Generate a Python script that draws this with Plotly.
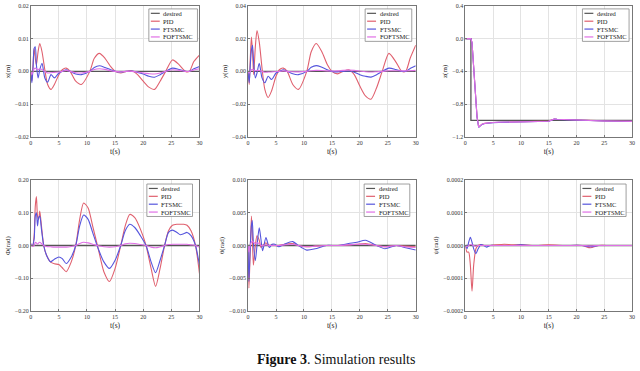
import plotly.graph_objects as go

W, H = 640, 371
FONT = "Liberation Serif"

series_names = ["desired", "PID", "FTSMC", "FOFTSMC"]
series_colors = ["#555555", "#e0606e", "#5555dd", "#e070e6"]

# ---------------- x(m) ----------------
t_x = [0, 0.2, 0.4, 0.6, 0.8, 1.0, 1.3, 1.6, 2.0, 2.5, 3.0, 3.6, 4.2, 5.0, 5.6, 6.3, 7.0, 8.0, 9.0, 10.5,
       11.3, 12.2, 13.2, 14.2, 15.0, 16.0, 17.0, 18.0, 19.0, 20.0, 21.0, 22.0, 23.0, 24.0, 25.2, 26.4, 27.5, 28.2, 29.0, 30.0]
x_pid = [0, -0.003, 0.002, 0.007, 0.004, 0.002, 0.006, 0.0085, 0.006, 0.0005, -0.004, -0.0055, -0.004, -0.001, 0.0005, 0.001, 0.0, -0.003, -0.004, 0.0,
         0.004, 0.0055, 0.004, 0.0015, 0.0, -0.0005, 0.0, 0.0002, -0.001, -0.003, -0.0048, -0.0055, -0.003, 0.0, 0.0035, 0.002, 0.0, 0.0, 0.003, 0.005]
x_ftsmc = [0, -0.0035, 0.001, 0.007, 0.0075, 0.002, -0.002, 0.0005, 0.0025, -0.002, -0.0033, -0.001, -0.002, -0.0005, 0.0, 0.0005, 0.0, -0.0008, -0.001, 0.0,
           0.0012, 0.0017, 0.0012, 0.0005, 0.0, -0.0002, 0.0, 0.0001, -0.0003, -0.0008, -0.0015, -0.0018, -0.001, 0.0, 0.001, 0.0006, 0.0, 0.0, 0.0008, 0.0015]
x_fo = [0, -0.001, 0.0, 0.0008, 0.001, 0.0008, 0.0005, 0.0008, 0.0006, 0.0, -0.0005, -0.0004, -0.0003, -0.0002, 0.0, 0.0003, 0.0, -0.0004, -0.0005, 0.0,
        0.0006, 0.0008, 0.0006, 0.0002, 0.0, -0.0001, 0.0, 0.0, -0.0002, -0.0005, -0.0007, -0.0008, -0.0005, 0.0, 0.0005, 0.0003, 0.0, 0.0, 0.0004, 0.0008]

# ---------------- y(m) ----------------
t_y = t_x
y_pid = [0, -0.008, 0.008, 0.021, 0.012, -0.002, 0.015, 0.025, 0.018, 0.002, -0.011, -0.016, -0.012, -0.003, 0.001, 0.002, 0.0, -0.008, -0.011, 0.0,
         0.012, 0.017, 0.012, 0.004, 0.0, -0.0015, 0.0, 0.001, -0.002, -0.009, -0.015, -0.017, -0.01, 0.0, 0.011, 0.006, 0.0, 0.0, 0.008, 0.016]
y_ftsmc = [0, -0.007, 0.004, 0.013, 0.016, 0.005, -0.004, -0.001, 0.005, -0.004, -0.007, -0.003, -0.005, -0.001, 0.0, 0.001, 0.0, -0.0015, -0.002, 0.0,
           0.0025, 0.0035, 0.0025, 0.001, 0.0, -0.0003, 0.0, 0.0002, -0.0005, -0.002, -0.003, -0.0035, -0.002, 0.0, 0.002, 0.0012, 0.0, 0.0, 0.0018, 0.0035]
y_fo = [0, -0.001, 0.0, 0.001, 0.0012, 0.0008, 0.0004, 0.0006, 0.0005, 0.0, -0.0005, -0.0004, -0.0003, -0.0001, 0.0, 0.0003, 0.0, -0.0002, -0.0003, 0.0,
        0.0004, 0.0006, 0.0005, 0.0003, 0.0002, 0.0003, 0.0006, 0.0008, 0.0006, 0.0002, -0.0002, -0.0004, -0.0002, 0.0, 0.0004, 0.0004, 0.0003, 0.0003, 0.0004, 0.0006]

# ---------------- z(m) ----------------
t_zd = [0, 1.0, 1.0, 30]
z_des = [0, 0, -1.0, -1.0]
t_z = [0, 1.0, 1.2, 1.5, 1.8, 2.1, 2.4, 2.7, 3.0, 3.5, 4.0, 5.0, 6.0, 8.0, 10.0, 12.0, 14.0, 15.0, 15.5, 16.0, 16.5, 18.0, 20.0, 22.0, 25.0, 28.0, 30.0]
z_pid = [0.0, 0.0, -0.05, -0.35, -0.65, -0.95, -1.08, -1.06, -1.045, -1.035, -1.03, -1.025, -1.022, -1.018, -1.015, -1.012, -1.01, -1.008, -0.995, -0.982, -0.985, -0.99, -0.995, -1.0, -1.005, -1.008, -1.01]
z_ftsmc = [0.0, 0.0, -0.05, -0.36, -0.66, -0.96, -1.085, -1.065, -1.048, -1.037, -1.032, -1.027, -1.024, -1.02, -1.017, -1.014, -1.012, -1.01, -0.997, -0.984, -0.987, -0.992, -0.997, -1.002, -1.007, -1.01, -1.012]
z_fo = [0.0, 0.0, -0.05, -0.355, -0.655, -0.955, -1.082, -1.062, -1.046, -1.036, -1.031, -1.026, -1.023, -1.019, -1.016, -1.013, -1.011, -1.009, -0.996, -0.983, -0.986, -0.991, -0.996, -1.001, -1.006, -1.009, -1.011]

# ---------------- phi(rad) ----------------
t_p = [0, 0.3, 0.6, 0.8, 1.0, 1.2, 1.4, 1.6, 1.9, 2.3, 2.8, 3.5, 4.2, 5.0, 5.6, 6.3, 7.2, 8.0, 8.7, 9.4,
       10.2, 11.0, 12.0, 13.0, 14.0, 15.0, 16.0, 16.8, 17.6, 18.5, 19.5, 20.5, 21.4, 22.2, 23.0, 23.8, 24.5, 25.2, 26.0, 26.6,
       27.2, 27.8, 28.5, 29.3, 30.0]
p_pid = [0.005, -0.003, 0.03, 0.12, 0.15, 0.09, 0.08, 0.105, 0.06, 0.0, -0.03, -0.05, -0.056, -0.058, -0.068, -0.08, -0.05, 0.0, 0.08, 0.13,
         0.115, 0.06, -0.01, -0.08, -0.11, -0.07, 0.0, 0.06, 0.095, 0.085, 0.05, 0.0, -0.07, -0.125, -0.07, 0.0, 0.045, 0.062, 0.065, 0.065,
         0.065, 0.062, 0.045, 0.0, -0.085]
p_ftsmc = [0.005, 0.0, 0.02, 0.09, 0.1, 0.06, 0.085, 0.09, 0.05, 0.0, -0.03, -0.05, -0.042, -0.035, -0.04, -0.055, -0.035, 0.0, 0.06, 0.093,
           0.08, 0.04, -0.01, -0.05, -0.07, -0.045, 0.0, 0.045, 0.065, 0.055, 0.03, 0.0, -0.05, -0.083, -0.045, 0.0, 0.04, 0.047, 0.04, 0.033,
           0.036, 0.04, 0.03, 0.0, -0.06]
p_fo = [0.005, -0.003, 0.0, 0.01, 0.008, 0.004, 0.008, 0.01, 0.006, 0.0, -0.003, -0.004, -0.005, -0.005, -0.005, -0.005, -0.003, 0.0, 0.006, 0.01,
        0.008, 0.004, -0.001, -0.004, -0.005, -0.004, 0.0, 0.005, 0.007, 0.006, 0.003, 0.0, -0.005, -0.007, -0.004, 0.0, 0.003, 0.004, 0.004, 0.004,
        0.004, 0.004, 0.002, 0.0, -0.005]

# ---------------- theta(rad) ----------------
t_th = [0, 0.15, 0.35, 0.6, 0.75, 0.95, 1.3, 1.6, 2.0, 2.3, 2.6, 3.2, 3.8, 4.3, 4.8, 5.5, 6.5, 8.0, 9.0, 10.5,
        12.0, 14.0, 16.0, 18.0, 19.5, 21.0, 23.0, 24.5, 26.5, 28.0, 30.0]
th_pid = [0, -0.0065, -0.002, 0.0045, 0.002, -0.003, 0.0, 0.0015, 0.0008, -0.0003, 0.0, 0.0004, 0.0, 0.0001, 0.0, 0.0, 0.0002, 0.0003, 0.0, -0.0002,
          -0.0001, 0.0, 0.0, 0.0001, 0.0002, 0.0003, 0.0, -0.0002, 0.0, -0.0001, -0.0002]
th_ftsmc = [0, -0.0055, -0.001, 0.003, 0.0038, 0.0005, -0.0023, 0.0, 0.0027, 0.001, -0.0008, 0.0012, -0.0003, 0.0002, 0.0002, -0.0002, 0.0002, 0.0006, 0.0, -0.0007,
            -0.0005, 0.0, 0.0, 0.0003, 0.0005, 0.0008, 0.0, -0.0005, 0.0, -0.0003, -0.0007]
th_fo = [0, -0.001, 0.0, 0.0005, 0.0007, 0.0005, 0.0003, 0.0004, 0.0003, 0.0, 0.0, 0.0001, 0.0, 0.0, 0.0, 0.0, 0.0001, 0.0002, 0.0, -0.0002,
         -0.0001, 0.0, 0.0, 0.0001, 0.0002, 0.0002, 0.0, -0.0002, 0.0, -0.0002, -0.0003]

# ---------------- psi(rad) ----------------
t_ps = [0, 0.3, 0.6, 0.9, 1.2, 1.5, 1.9, 2.3, 2.8, 3.3, 3.8, 4.5, 5.5, 7.0, 8.5, 10.0, 12.0, 15.0, 18.0, 21.0, 22.5, 24.0, 26.0, 28.0, 30.0]
ps_pid = [0, -0.00002, -0.00002, -0.00006, -0.00014, -0.00006, -0.00001, 0.0, 0.000003, 0.0, 0.0, 0.0, 0.000002, 0.000004, 0.000002, 0.000003, 0.0, 0.000002, 0.0, 0.0, -0.000007, 0.0, 0.0, 0.0, 0.0]
ps_ftsmc = [0, -0.00001, 0.00001, 0.000025, 0.00001, -0.00001, -0.000025, -0.00001, 0.000003, 0.0, -0.000005, 0.0, 0.0, 0.0, 0.0, 0.000002, 0.0, 0.0, 0.0, 0.0, -0.000004, 0.0, 0.0, 0.0, 0.0]
ps_fo = [0, -0.000003, 0.0, 0.000003, 0.000002, 0.0, -0.000002, 0.0, 0.0, 0.0, 0.0, 0.0, 0.0, 0.0, 0.0, 0.0, 0.0, 0.0, 0.0, 0.0, -0.000001, 0.0, 0.0, 0.0, 0.0]

t_zero = [0, 30]
zero_line = [0, 0]

panels = [
    dict(title="x(m)", rng=[-0.02, 0.02], dtick=0.01, fmt=".2f",
         data=[(t_zero, zero_line), (t_x, x_pid), (t_x, x_ftsmc), (t_x, x_fo)], shape="spline"),
    dict(title="y(m)", rng=[-0.04, 0.04], dtick=0.02, fmt=".2f",
         data=[(t_zero, zero_line), (t_y, y_pid), (t_y, y_ftsmc), (t_y, y_fo)], shape="spline"),
    dict(title="z(m)", rng=[-1.2, 0.4], dtick=0.4, fmt=".1f",
         data=[(t_zd, z_des), (t_z, z_pid), (t_z, z_ftsmc), (t_z, z_fo)], shape="linear"),
    dict(title="Φ(rad)", rng=[-0.2, 0.2], dtick=0.1, fmt=".2f",
         data=[(t_zero, zero_line), (t_p, p_pid), (t_p, p_ftsmc), (t_p, p_fo)], shape="spline"),
    dict(title="θ(rad)", rng=[-0.01, 0.01], dtick=0.005, fmt=".3f",
         data=[(t_zero, zero_line), (t_th, th_pid), (t_th, th_ftsmc), (t_th, th_fo)], shape="spline"),
    dict(title="ψ(rad)", rng=[-0.0002, 0.0002], dtick=0.0001, fmt=".4f",
         data=[(t_zero, zero_line), (t_ps, ps_pid), (t_ps, ps_ftsmc), (t_ps, ps_fo)], shape="spline"),
]

# plot-area boxes in pixels: (left, right, top, bottom)
boxes = [(29, 199, 3, 136), (248, 417, 3, 136), (467, 635, 3, 136),
         (29, 199, 180, 313), (248, 417, 180, 313), (467, 635, 180, 313)]
# legend boxes (left, right, top)
leg_boxes = [(148, 197, 6), (366, 413, 6), (585, 632, 6),
             (146, 192, 184), (365, 411, 184), (583, 629, 184)]


def px(x):
    return x / W


def py(y):
    return 1 - y / H


fig = go.Figure()
layout = dict(width=W, height=H, margin=dict(l=0, r=0, t=0, b=0),
              paper_bgcolor="white", plot_bgcolor="white", showlegend=False,
              font=dict(family=FONT, color="#222222"))
shapes, annotations = [], []

for i, (p, b) in enumerate(zip(panels, boxes)):
    n = "" if i == 0 else str(i + 1)
    xa, ya = "x" + n, "y" + n
    for k, (tt, vv) in enumerate(p["data"]):
        fig.add_trace(go.Scatter(
            x=tt, y=vv, xaxis=xa, yaxis=ya, mode="lines", name=series_names[k],
            line=dict(color=series_colors[k], width=1.1 if k else 1.3,
                      shape=p["shape"], smoothing=0.7 if p["shape"] == "spline" else None)))
    axcommon = dict(showline=True, mirror=True, linecolor="#777777", linewidth=0.8,
                    showgrid=True, gridcolor="#e3e3e3", gridwidth=0.8,
                    ticks="inside", ticklen=2, tickcolor="#777777", zeroline=False,
                    tickfont=dict(family=FONT, size=6, color="#333333"))
    layout["xaxis" + n] = dict(domain=[px(b[0]), px(b[1])], anchor=ya, range=[0, 30], dtick=5,
                               title=dict(text="t(s)", font=dict(family=FONT, size=7.5, color="#222222"), standoff=3),
                               **axcommon)
    layout["yaxis" + n] = dict(domain=[py(b[3]), py(b[2])], anchor=xa, range=p["rng"], dtick=p["dtick"],
                               tickformat=p["fmt"],
                               title=dict(text=p["title"], font=dict(family=FONT, size=7, color="#222222"), standoff=3),
                               **axcommon)
    # manual legend
    l, r, top = leg_boxes[i]
    bottom = top + 33
    shapes.append(dict(type="rect", xref="paper", yref="paper", x0=px(l), x1=px(r), y0=py(bottom), y1=py(top),
                       line=dict(color="#888888", width=0.8), fillcolor="white", layer="above"))
    for k, name in enumerate(series_names):
        yy = top + 4.5 + 8 * k
        shapes.append(dict(type="line", xref="paper", yref="paper", x0=px(l + 2), x1=px(l + 11),
                           y0=py(yy), y1=py(yy), line=dict(color=series_colors[k], width=1.2), layer="above"))
        annotations.append(dict(xref="paper", yref="paper", x=px(l + 12.5), y=py(yy), text=name,
                                showarrow=False, xanchor="left", yanchor="middle",
                                font=dict(family=FONT, size=6.5, color="#222222")))

annotations.append(dict(xref="paper", yref="paper", x=px(337), y=py(362), text="<b>Figure 3</b>. Simulation results",
                        showarrow=False, xanchor="center", yanchor="middle",
                        font=dict(family=FONT, size=14, color="#111111")))
layout["shapes"] = shapes
layout["annotations"] = annotations
fig.update_layout(**layout)
fig.write_html("out.html", config={"displayModeBar": False},
               post_script="document.body.style.margin='0';document.body.style.overflow='hidden';")
